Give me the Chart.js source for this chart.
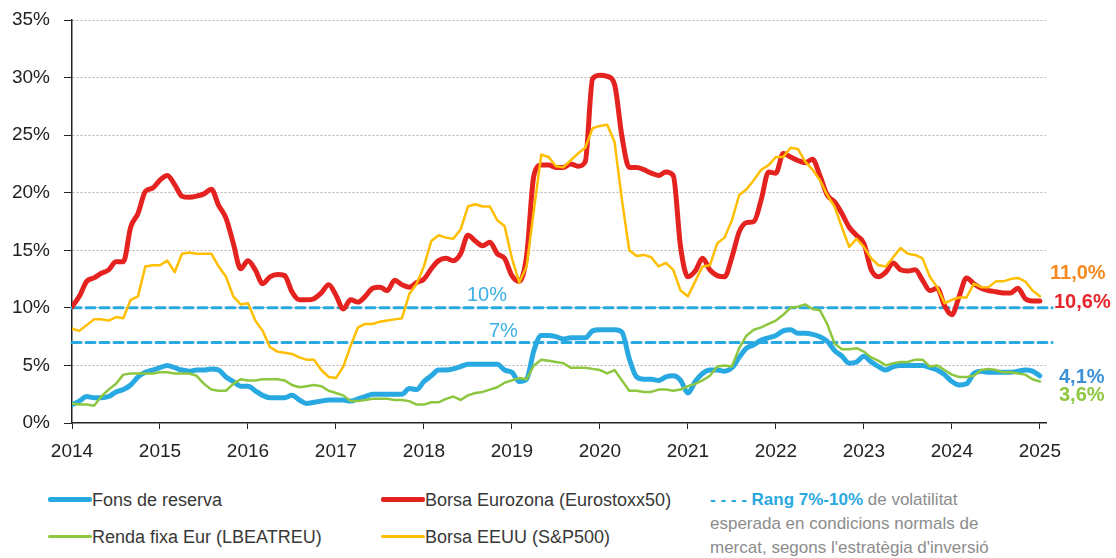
<!DOCTYPE html>
<html>
<head>
<meta charset="utf-8">
<title>Volatilitat</title>
<script src="https://cdn.jsdelivr.net/npm/chart.js@4.4.0/dist/chart.umd.min.js"></script>
<style>
body { margin: 0; background: #fff; font-family: 'Liberation Sans', Arial, sans-serif; }
#wrap { position: relative; width: 1116px; height: 558px; overflow: hidden; }
#chart { position: absolute; left: 0; top: 0; }
.lbl { position: absolute; font-size: 20px; line-height: 20px; white-space: nowrap; }
.leg { position: absolute; font-size: 18px; line-height: 20px; color: #383838; white-space: nowrap; }
.sw { display: inline-block; width: 44px; vertical-align: middle; margin-top: -3px; border-radius: 2px; }
.note { position: absolute; left: 710px; top: 488px; font-size: 17px; line-height: 24px; color: #8c8c8c; white-space: nowrap; }
.note b { color: #2aa9e0; }
</style>
</head>
<body>
<div id="wrap">
	<canvas id="chart" width="1116" height="470"></canvas>

	<div class="lbl" style="left:467px; top:284px; color:#3bb0e6;">10%</div>
	<div class="lbl" style="left:489px; top:320px; color:#3bb0e6;">7%</div>

	<div class="lbl" style="left:1050px; top:262px; color:#f5891f; font-weight:bold;">11,0%</div>
	<div class="lbl" style="left:1054px; top:291px; color:#e6252a; font-weight:bold;">10,6%</div>
	<div class="lbl" style="left:1059px; top:366px; color:#3d8fd6; font-weight:bold;">4,1%</div>
	<div class="lbl" style="left:1059px; top:384px; color:#8dc63f; font-weight:bold;">3,6%</div>

	<div class="leg" style="left:48px; top:490px;"><span class="sw" style="background:#29a9e1; height:5px;"></span>Fons de reserva</div>
	<div class="leg" style="left:381px; top:490px;"><span class="sw" style="background:#e42320; height:5px;"></span>Borsa Eurozona (Eurostoxx50)</div>
	<div class="leg" style="left:48px; top:527px;"><span class="sw" style="background:#8dc63f; height:3px;"></span>Renda fixa Eur (LBEATREU)</div>
	<div class="leg" style="left:381px; top:527px;"><span class="sw" style="background:#ffbe00; height:3px;"></span>Borsa EEUU (S&amp;P500)</div>

	<div class="note"><b>- - - - Rang 7%-10%</b> de volatilitat<br>esperada en condicions normals de<br>mercat, segons l'estratègia d'inversió</div>
</div>

<script>
Chart.defaults.font.family = "'Liberation Sans', Arial, sans-serif";

// monthly values, Jan 2014 .. Jan 2025
var startYear = 2014;
var endYear = 2025.07;
var rangeEnd = 2025.14;

var eurostoxx = [
	10.1, 11.0, 12.3, 12.6, 13.0, 13.3, 14.0, 14.0, 17.0, 18.2, 20.1, 20.4,
	21.1, 21.5, 20.7, 19.7, 19.6, 19.7, 19.9, 20.3, 18.9, 17.8, 15.6, 13.4,
	14.1, 13.3, 12.1, 12.7, 12.9, 12.8, 11.4, 10.7, 10.7, 10.8, 11.3, 12.0,
	11.1, 9.9, 10.7, 10.5, 11.0, 11.7, 11.8, 11.5, 12.4, 12.0, 11.8, 12.2,
	12.5, 13.4, 14.1, 14.3, 14.1, 14.7, 16.3, 15.8, 15.4, 15.7, 14.7, 14.3,
	12.8, 12.3, 14.5, 21.5, 22.4, 22.4, 22.2, 22.2, 22.5, 22.3, 22.7, 29.9,
	30.2, 30.1, 29.4, 24.9, 22.2, 22.2, 22.0, 21.7, 21.5, 21.8, 21.5, 15.3,
	12.7, 13.2, 14.3, 13.3, 12.8, 12.7, 14.4, 16.6, 17.4, 17.5, 19.4, 21.8,
	21.7, 23.4, 23.1, 22.8, 22.6, 22.9, 21.5, 19.8, 19.2, 18.2, 17.0, 16.3,
	15.6, 13.3, 12.7, 13.1, 13.9, 13.3, 13.2, 13.3, 12.4, 11.5, 11.7, 10.2,
	9.4, 11.0, 12.6, 12.1, 11.7, 11.5, 11.4, 11.3, 11.3, 11.7, 10.8, 10.6,
	10.6
];

var sp500 = [
	8.2, 8.0, 8.5, 9.0, 9.0, 8.9, 9.2, 9.1, 10.7, 11.0, 13.6, 13.7,
	13.7, 14.1, 13.1, 14.7, 14.8, 14.7, 14.7, 14.7, 13.6, 12.7, 11.0, 10.3,
	10.4, 8.9, 8.0, 6.6, 6.2, 6.1, 6.0, 5.7, 5.5, 5.5, 4.6, 4.0,
	3.9, 4.9, 6.7, 8.3, 8.6, 8.6, 8.8, 8.9, 9.0, 9.1, 11.2, 12.1,
	13.6, 15.8, 16.3, 16.1, 16.0, 16.8, 18.8, 19.0, 18.8, 18.8, 17.6, 17.1,
	14.3, 12.2, 13.6, 18.5, 23.3, 23.1, 22.3, 22.2, 22.8, 23.4, 23.9, 25.6,
	25.8, 25.9, 24.4, 19.4, 15.0, 14.5, 14.6, 14.4, 13.6, 13.9, 13.3, 11.5,
	11.0, 12.3, 13.6, 13.7, 15.6, 16.1, 17.6, 19.8, 20.3, 21.1, 22.0, 22.4,
	23.1, 23.1, 23.9, 23.8, 22.7, 22.0, 21.1, 19.8, 18.8, 17.0, 15.3, 16.0,
	15.3, 14.3, 13.7, 13.6, 14.4, 15.2, 14.7, 14.6, 14.3, 12.7, 11.8, 10.4,
	10.7, 10.9, 10.9, 12.1, 11.8, 11.8, 12.3, 12.3, 12.5, 12.6, 12.3, 11.5,
	11.0
];

var fonsReserva = [
	1.6, 1.9, 2.3, 2.2, 2.2, 2.3, 2.7, 2.9, 3.3, 4.0, 4.4, 4.6,
	4.8, 5.0, 4.8, 4.6, 4.5, 4.6, 4.6, 4.7, 4.6, 4.0, 3.6, 3.2,
	3.2, 2.8, 2.4, 2.2, 2.2, 2.2, 2.4, 2.0, 1.7, 1.8, 1.9, 2.0,
	2.0, 2.0, 1.9, 2.1, 2.3, 2.5, 2.5, 2.5, 2.5, 2.5, 3.0, 2.9,
	3.6, 4.1, 4.6, 4.6, 4.7, 4.9, 5.1, 5.1, 5.1, 5.1, 5.1, 4.6,
	4.4, 3.6, 3.8, 6.3, 7.6, 7.6, 7.5, 7.3, 7.4, 7.4, 7.4, 8.0,
	8.1, 8.1, 8.1, 7.9, 5.6, 4.0, 3.8, 3.8, 3.7, 4.0, 4.1, 3.7,
	2.6, 3.6, 4.3, 4.6, 4.6, 4.5, 4.8, 5.7, 6.5, 6.8, 7.2, 7.4,
	7.6, 8.0, 8.1, 7.8, 7.8, 7.7, 7.5, 7.1, 6.3, 5.8, 5.2, 5.3,
	5.8, 5.3, 4.9, 4.6, 4.9, 5.0, 5.0, 5.0, 5.0, 4.8, 4.6, 4.2,
	3.6, 3.3, 3.4, 4.3, 4.5, 4.4, 4.4, 4.4, 4.4, 4.5, 4.6, 4.5,
	4.1
];

var rendaFixa = [
	1.7, 1.6, 1.6, 1.5, 2.3, 2.9, 3.4, 4.2, 4.3, 4.3, 4.3, 4.3,
	4.4, 4.4, 4.3, 4.3, 4.3, 4.1, 3.4, 2.9, 2.8, 2.8, 3.4, 3.8,
	3.7, 3.7, 3.8, 3.8, 3.8, 3.7, 3.3, 3.1, 3.2, 3.3, 3.2, 2.8,
	2.6, 2.4, 1.9, 1.9, 2.0, 2.1, 2.1, 2.1, 2.0, 2.0, 1.9, 1.6,
	1.6, 1.8, 1.8, 2.1, 2.3, 2.0, 2.4, 2.6, 2.7, 2.9, 3.1, 3.5,
	3.7, 3.9, 3.8, 5.0, 5.5, 5.4, 5.3, 5.2, 4.8, 4.8, 4.8, 4.7,
	4.6, 4.3, 4.6, 3.7, 2.8, 2.8, 2.7, 2.7, 2.9, 2.9, 2.8, 2.9,
	3.2, 3.4, 3.7, 4.1, 4.9, 5.0, 4.9, 6.5, 7.6, 8.1, 8.3, 8.6,
	8.9, 9.4, 10.0, 10.1, 10.3, 9.9, 9.8, 8.6, 6.9, 6.4, 6.4, 6.5,
	6.2, 5.7, 5.4, 5.0, 5.2, 5.3, 5.3, 5.5, 5.5, 4.9, 5.0, 4.6,
	4.2, 4.0, 4.0, 4.1, 4.6, 4.7, 4.6, 4.4, 4.4, 4.3, 4.2, 3.8,
	3.6
];

var rangeLevels = [10, 7];

function toPoints(values) {
	return values.map(function (v, i) {
		return { x: startYear + i / 12, y: v };
	});
}

var datasets = [
	{ data: toPoints(sp500), borderColor: '#ffbe00', borderWidth: 2.5, tension: 0, order: 0 },
	{ data: toPoints(rendaFixa), borderColor: '#8dc63f', borderWidth: 2.5, tension: 0, order: 1 },
	{ data: toPoints(fonsReserva), borderColor: '#29a9e1', borderWidth: 5, cubicInterpolationMode: 'monotone', order: 2 },
	{ data: toPoints(eurostoxx), borderColor: '#e42320', borderWidth: 5, cubicInterpolationMode: 'monotone', order: 3 }
];

rangeLevels.forEach(function (lvl) {
	datasets.push({
		data: [{ x: startYear, y: lvl }, { x: rangeEnd, y: lvl }],
		borderColor: '#2aa9e0',
		borderWidth: 3,
		borderDash: [9, 5],
		clip: false,
		order: 5
	});
});

var tickFont = { size: 19 };

new Chart(document.getElementById('chart'), {
	type: 'line',
	data: { datasets: datasets },
	options: {
		responsive: false,
		animation: false,
		events: [],
		layout: { padding: { top: 20, right: 70, left: 0, bottom: 0 } },
		plugins: { legend: { display: false }, tooltip: { enabled: false } },
		elements: {
			point: { radius: 0 },
			line: { borderCapStyle: 'round', borderJoinStyle: 'round', fill: false }
		},
		scales: {
			x: {
				type: 'linear',
				min: startYear,
				max: endYear,
				afterFit: function (s) { s.height = 47; },
				ticks: {
					stepSize: 1,
					includeBounds: false,
					autoSkip: false,
					maxRotation: 0,
					padding: 11,
					color: '#222',
					font: tickFont,
					callback: function (v) { return String(v); }
				},
				grid: { drawOnChartArea: false, drawTicks: true, tickLength: 6, tickColor: '#222', tickWidth: 1 },
				border: { color: '#222', width: 1.5 }
			},
			y: {
				min: 0,
				max: 35,
				afterFit: function (s) { s.width = 72; },
				ticks: {
					stepSize: 5,
					padding: 2,
					color: '#222',
					font: tickFont,
					callback: function (v) { return v + '%'; }
				},
				grid: {
					color: function (ctx) { return ctx.tick && ctx.tick.value === 0 ? 'rgba(0,0,0,0)' : '#bab2ae'; },
					lineWidth: 1,
					tickLength: 20,
					tickColor: '#222',
					tickWidth: 1,
					// only the 8px next to the axis is visible
					tickBorderDash: [8, 12],
					tickBorderDashOffset: 8
				},
				border: { color: '#222', width: 1.5, dash: [2, 2] }
			}
		}
	}
});
</script>
</body>
</html>
